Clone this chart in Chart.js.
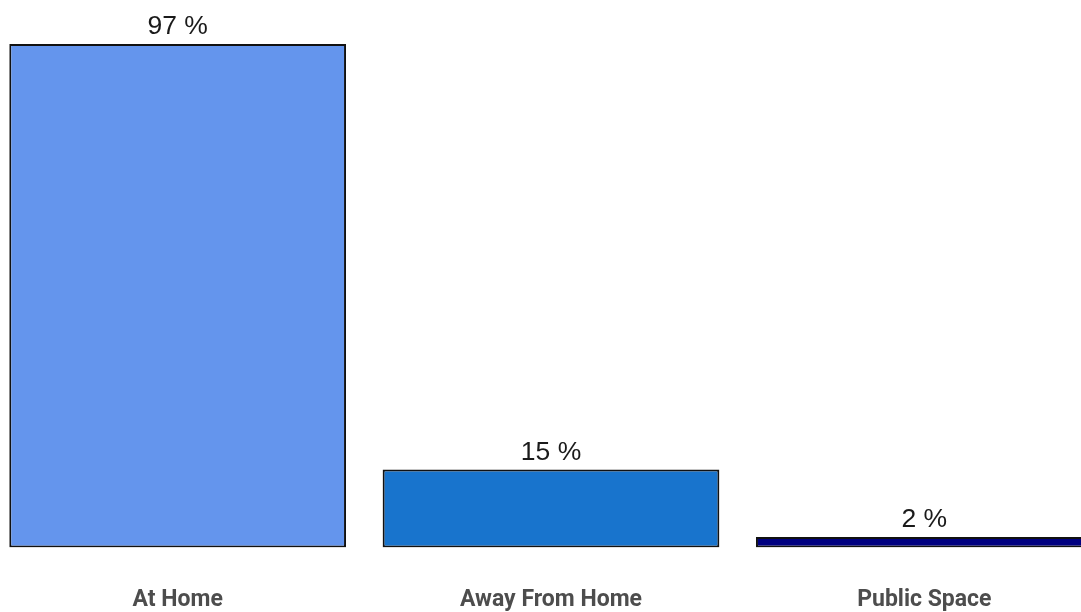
<!DOCTYPE html>
<html>
<head>
<meta charset="utf-8">
<script src="https://cdn.jsdelivr.net/npm/chart.js@4"></script>
<style>
  html, body { margin: 0; padding: 0; background: #fff; overflow: hidden; }
  #wrap { position: absolute; left: -9px; top: 0; width: 1120px; height: 612px; }
</style>
</head>
<body>
<div id="wrap"><canvas id="canvas"></canvas></div>
<script>
var categories = ['At Home', 'Away From Home', 'Public Space'];
var values = [97, 15, 2];
var barColors = ['#6495ED', '#1874CD', '#000080'];

// writes "NN %" above each bar
var valueLabels = {
  id: 'valueLabels',
  afterDatasetsDraw: function(chart) {
    var ctx = chart.ctx;
    var meta = chart.getDatasetMeta(0);
    ctx.save();
    ctx.font = '26.5px "Liberation Sans", Arial, sans-serif';
    ctx.fillStyle = '#1a1a1a';
    ctx.textAlign = 'center';
    ctx.textBaseline = 'alphabetic';
    meta.data.forEach(function(bar, i) {
      ctx.fillText(values[i] + ' %', bar.x, bar.y - 10);
    });
    ctx.restore();
  }
};

function printChart() {
  var ctx = document.getElementById('canvas').getContext('2d');
  new Chart(ctx, {
    type: 'bar',
    data: {
      labels: categories,
      datasets: [{
        data: values,
        backgroundColor: barColors,
        borderColor: '#111',
        borderWidth: 2,
        borderSkipped: false,
        categoryPercentage: 1,
        barPercentage: 0.902
      }]
    },
    options: {
      responsive: true,
      maintainAspectRatio: false,
      animation: false,
      layout: { padding: { top: 44, bottom: -41, left: 0, right: 0 } },
      plugins: { legend: { display: false }, tooltip: { enabled: false } },
      scales: {
        x: {
          grid: { display: false, drawTicks: false },
          border: { display: false },
          ticks: {
            padding: 39,
            color: '#4d4d4d',
            font: { family: 'Roboto, "Liberation Sans", sans-serif', size: 23, weight: 'bold' }
          }
        },
        y: {
          display: false,
          min: 0,
          max: 97
        }
      }
    },
    plugins: [valueLabels]
  });
}

printChart();
</script>
</body>
</html>
